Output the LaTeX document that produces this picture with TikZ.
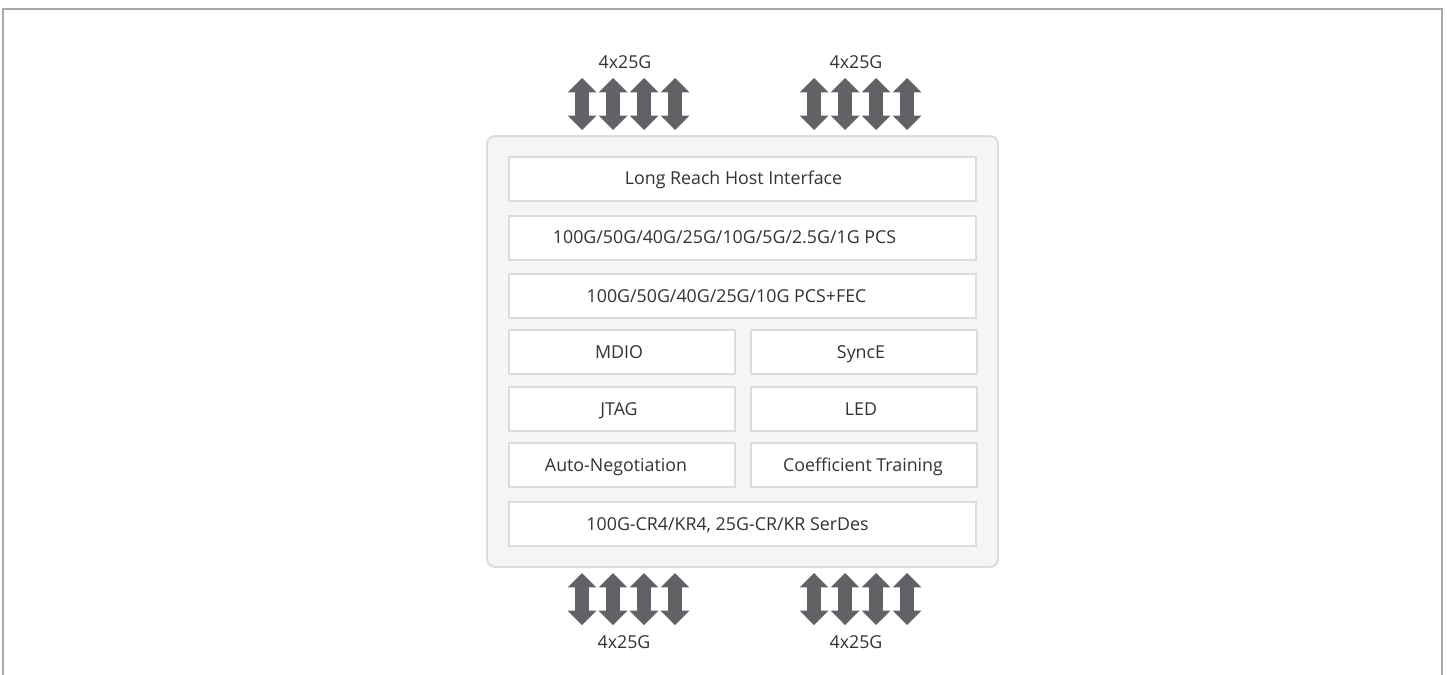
\documentclass[tikz,border=0pt]{standalone}
\usepackage{fontspec}
\setmainfont{Open Sans}
\usetikzlibrary{shapes.arrows}
\definecolor{arrowgray}{HTML}{616266}
\definecolor{boxline}{HTML}{DCDCDC}
\definecolor{chipfill}{HTML}{F5F5F5}
\definecolor{framegray}{HTML}{A9A9AD}
\definecolor{txt}{HTML}{333333}

\begin{document}
\begin{tikzpicture}[x=0.5pt,y=-0.5pt,
  blk/.style={draw=boxline,line width=1pt,fill=white,minimum height=22pt,
    inner sep=0pt},
  wide/.style={blk,minimum width=233.5pt},
  half/.style={blk,minimum width=113pt},
  btxt/.style={inner sep=0pt,text height=6.3pt,text depth=0pt,
    font=\fontsize{8.9}{10}\selectfont,text=txt},
  lane/.style={double arrow,rotate=90,fill=arrowgray,inner sep=3.25pt,
    double arrow head extend=3.75pt,minimum height=26pt,minimum width=0pt}]
  \useasboundingbox (0,0) rectangle (1447,675);
  % outer frame
  \draw[framegray,line width=1pt] (3,675) -- (3,9) -- (1442,9) -- (1442,675);
  % chip
  \node (chip) at (742.5,351.5)[draw=boxline,line width=1pt,fill=chipfill,
    rounded corners=4pt,minimum width=255.5pt,minimum height=215.5pt]{};
  \node (hostbox) at (742.5,178.5)[wide]{};
  \node (pcsbox) at (742.5,237.5)[wide]{};
  \node (fecbox) at (742.5,296)[wide]{};
  \node (mdiobox) at (622,352)[half]{};
  \node (syncebox) at (864,352)[half]{};
  \node (jtagbox) at (622,409)[half]{};
  \node (ledbox) at (864,409)[half]{};
  \node (anbox) at (622,465)[half]{};
  \node (ctbox) at (864,465)[half]{};
  \node (serdesbox) at (742.5,524)[wide]{};
  % block texts
  \node (host) at ([xshift=-4.5pt]hostbox.center)[btxt]{Long Reach Host Interface};
  \node (pcs) at ([xshift=-9pt]pcsbox.center)[btxt]{100G/50G/40G/25G/10G/5G/2.5G/1G PCS};
  \node (fec) at ([xshift=-8pt]fecbox.center)[btxt]{100G/50G/40G/25G/10G PCS+FEC};
  \node (mdio) at ([xshift=-1.5pt]mdiobox.center)[btxt]{MDIO};
  \node (synce) at ([xshift=-1.5pt]syncebox.center)[btxt]{SyncE};
  \node (jtag) at ([xshift=-1.5pt]jtagbox.center)[btxt]{JTAG};
  \node (led) at ([xshift=-1.5pt]ledbox.center)[btxt]{LED};
  \node (an) at ([xshift=-3pt]anbox.center)[btxt]{Auto-Negotiation};
  \node (ct) at ([xshift=-0.5pt]ctbox.center)[btxt]{Coefficient Training};
  \node (serdes) at ([xshift=-7.5pt]serdesbox.center)[btxt]{100G-CR4/KR4, 25G-CR/KR SerDes};
  % lanes
  \foreach \g/\x in {a/582,b/814}
    {
      \foreach \k in {0,1,2,3}
      {\node (top\g\k) at (\x+31*\k,104)[lane]{};
       \node (bot\g\k) at (\x+31*\k,599)[lane]{};}
    }
  \node (labta) at (625,62)[btxt]{4x25G};
  \node (labtb) at (856,62)[btxt]{4x25G};
  \node (labba) at (624,642)[btxt]{4x25G};
  \node (labbb) at (856,642)[btxt]{4x25G};
\end{tikzpicture}
\end{document}
